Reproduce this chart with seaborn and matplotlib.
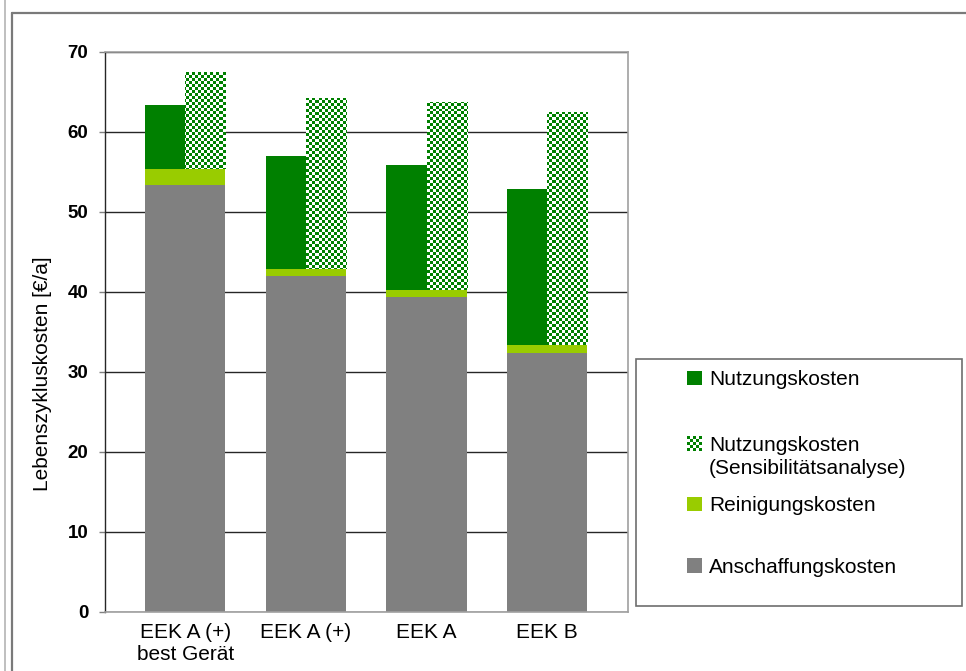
import numpy as np
import pandas as pd
import matplotlib
matplotlib.use("Agg")
import matplotlib.pyplot as plt
from matplotlib.patches import Rectangle
from matplotlib.lines import Line2D
import seaborn as sns

# --- data -------------------------------------------------------------
categories = ["EEK A (+)\nbest Gerät", "EEK A (+)", "EEK A", "EEK B"]
anschaffung = [53.3, 42.0, 39.3, 32.4]          # Anschaffungskosten
reinigung = [2.0, 0.9, 0.9, 0.9]                # Reinigungskosten
nutzung = [8.1, 14.1, 15.7, 19.5]               # Nutzungskosten
nutzung_sens = [12.2, 21.3, 23.5, 29.2]         # Nutzungskosten (Sensibilitätsanalyse)
y_ticks = [0, 10, 20, 30, 40, 50, 60, 70]

legend_labels = ["Nutzungskosten", "Nutzungskosten\n(Sensibilitätsanalyse)",
                 "Reinigungskosten", "Anschaffungskosten"]

GREEN = "#008000"
LIGHT = "#99CC00"
GRAY = "#808080"

# cumulative tops of the stacked segments
base = np.array(anschaffung)
clean_top = base + np.array(reinigung)
use_top = clean_top + np.array(nutzung)
sens_top = clean_top + np.array(nutzung_sens)

sns.set_theme(style="white")
plt.rcParams["font.family"] = ["Liberation Sans", "DejaVu Sans"]

W, H = 966, 671
fig = plt.figure(figsize=(W / 100, H / 100), dpi=100)
fig.patch.set_facecolor("white")


def fx(px):
    return px / W


def fy(py):
    return 1 - py / H


ax = fig.add_axes([fx(105), fy(611.5), 522.5 / W, 559.5 / H])

# upper halves: regular use costs (left) and sensitivity case (right)
df_top = pd.DataFrame({
    "Kategorie": categories * 2,
    "Variante": ["Nutzung"] * 4 + ["Sensitiv"] * 4,
    "Wert": list(use_top) + list(sens_top),
})
sns.barplot(data=df_top, x="Kategorie", y="Wert", hue="Variante",
            order=categories, hue_order=["Nutzung", "Sensitiv"],
            palette=[GREEN, "white"], width=0.665, saturation=1,
            errorbar=None, linewidth=0, legend=False, dodge=True, ax=ax)
sens_bars = ax.containers[1]

# cleaning costs and purchase costs, full width on top of the halves
sns.barplot(x=categories, y=list(clean_top), order=categories, color=LIGHT,
            width=0.665, saturation=1, errorbar=None, linewidth=0, ax=ax,
            zorder=2)
sns.barplot(x=categories, y=list(base), order=categories, color=GRAY,
            width=0.665, saturation=1, errorbar=None, linewidth=0, ax=ax,
            zorder=2)

xlim = (-0.667, 3.667)
ylim = (0, 70)

# checkerboard fill for the sensitivity bars (3 px cells), clipped to the
# part of each bar above the cleaning-cost segment
nx, ny = 174, 187
yy, xx = np.mgrid[0:ny, 0:nx]
checker = np.ones((ny, nx, 3))
checker[(xx + yy) % 2 == 0] = np.array([0, 128, 0]) / 255
for bar, lower in zip(sens_bars, clean_top):
    x0, w, h = bar.get_x(), bar.get_width(), bar.get_height()
    clip = Rectangle((x0, lower), w, h - lower, transform=ax.transData)
    im = ax.imshow(checker, extent=(xlim[0], xlim[1], ylim[0], ylim[1]),
                   aspect="auto", interpolation="nearest", origin="lower",
                   zorder=1.2)
    im.set_clip_path(clip)

ax.set_xlim(*xlim)
ax.set_ylim(*ylim)
ax.set_aspect("auto")

# axes styling
ax.set_xlabel("")
ax.set_yticks(y_ticks, labels=[str(t) for t in y_ticks], fontweight="bold")
ax.tick_params(axis="y", length=4, width=1, color="#808080", pad=8,
               labelsize=13.5, labelcolor="black", left=True)
ax.tick_params(axis="x", length=0, pad=8, labelsize=15, labelcolor="black")
ax.yaxis.grid(True, color="#262626", lw=1)
ax.xaxis.grid(False)
ax.set_axisbelow(True)
for side in ["top", "right", "bottom"]:
    ax.spines[side].set_color("#a0a0a0")
    ax.spines[side].set_linewidth(1.2)
ax.spines["left"].set_color("#262626")
ax.spines["left"].set_linewidth(1)

ax.set_ylabel("Lebenszykluskosten [€/a]", fontsize=15, color="black")
ax.yaxis.set_label_coords(-0.1006, 0.4245)

# chart frame
fig.add_artist(Line2D([fx(5), fx(5)], [0, 1], color="#b4b4b4", lw=1.2))
fig.add_artist(Line2D([fx(12), fx(12)], [0, fy(13)], color="#7a7a7a", lw=1.6))
fig.add_artist(Line2D([fx(12), 1], [fy(13), fy(13)], color="#7a7a7a", lw=1.6))

# legend box
fig.add_artist(Rectangle((fx(636), fy(606)), (962 - 636) / W, (606 - 359) / H,
                         transform=fig.transFigure, facecolor="white",
                         edgecolor="#6e6e6e", lw=1.2, zorder=-1))

sq = 14.4
rows = [
    (385, GREEN, legend_labels[0]),
    (450.7, None, legend_labels[1]),
    (511, LIGHT, legend_labels[2]),
    (572.7, GRAY, legend_labels[3]),
]
for baseline, color, label in rows:
    top = baseline - 14.3
    if color is not None:
        fig.add_artist(Rectangle((fx(687.3), fy(top + sq)), sq / W, sq / H,
                                 transform=fig.transFigure, facecolor=color,
                                 edgecolor="none", zorder=2))
    else:
        iax = fig.add_axes([fx(687.3), fy(top + sq), sq / W, sq / H])
        iax.set_zorder(3)
        cb = np.ones((5, 5, 3))
        gy, gx = np.mgrid[0:5, 0:5]
        cb[(gx + gy) % 2 == 0] = np.array([0, 128, 0]) / 255
        iax.imshow(cb, interpolation="nearest", aspect="auto")
        iax.set_axis_off()
    lines = label.split("\n")
    for i, line in enumerate(lines):
        fig.text(fx(709), fy(baseline + i * 23.5), line, fontsize=15,
                 va="baseline", ha="left", color="black", zorder=4)

fig.savefig("out.png", dpi=100, facecolor="white")
